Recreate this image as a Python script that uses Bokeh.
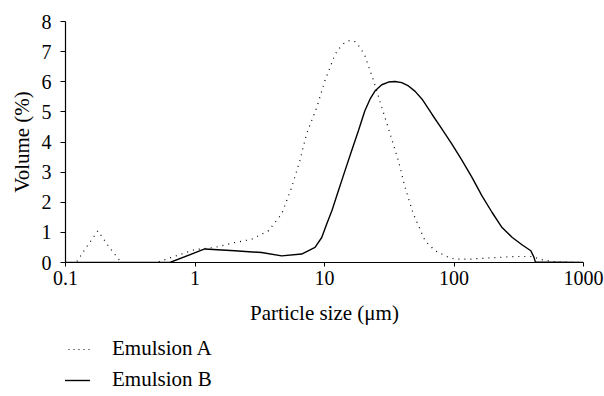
from bokeh.plotting import figure
from bokeh.layouts import column
from bokeh.models import FixedTicker, Legend, LegendItem, Range1d
from bokeh.embed import file_html
from bokeh.resources import INLINE

# Emulsion A (dotted)
a_x = [0.1, 0.121, 0.15, 0.178, 0.22, 0.27, 0.504, 1.0, 1.42, 2.03, 2.73, 3.68, 4.67,
       5.57, 6.45, 7.27, 8.72, 10.08, 12.1, 13.2, 14.4, 15.7, 17.2, 18.8, 20.5, 23.9, 27.7,
       32.1, 37.2, 41.9, 48.6, 59.8, 71.5, 90.8, 102, 130, 185, 297, 401, 480, 610, 1000]
a_y = [0, 0, 0.6, 1.05, 0.48, 0, 0, 0.43, 0.5, 0.66, 0.77, 1.05, 1.61,
       2.49, 3.38, 4.27, 5.15, 6.04, 6.92, 7.14, 7.31, 7.37, 7.33, 7.14, 6.87, 6.04, 5.15,
       4.27, 3.38, 2.49, 1.61, 0.72, 0.39, 0.17, 0.11, 0.11, 0.15, 0.2, 0.2, 0.09, 0.02, 0]

# Emulsion B (solid)
b_x = [0.1, 0.64, 1.19, 2.03, 3.27, 4.67, 6.66, 8.45, 9.52, 10.4, 11.4, 12.8, 14.4, 16.2,
       18.3, 20.5, 22.5, 24.6, 27.7, 31.2, 35.0, 39.5, 44.5, 50.1, 56.5, 67.4, 80.8, 96.4,
       115, 138, 164, 197, 235, 282, 337, 392, 413, 425, 1000]
b_y = [0, 0, 0.45, 0.39, 0.33, 0.22, 0.28, 0.5, 0.83, 1.28, 1.72, 2.38, 3.05, 3.71,
       4.38, 5.04, 5.43, 5.7, 5.9, 5.99, 6.01, 5.97, 5.86, 5.68, 5.43, 4.93, 4.43, 3.93,
       3.4, 2.82, 2.22, 1.66, 1.16, 0.83, 0.58, 0.39, 0.19, 0.02, 0]

x_ticks = [0.1, 1, 10, 100, 1000]
x_labels = ["0.1", "1", "10", "100", "1000"]
y_ticks = [0, 1, 2, 3, 4, 5, 6, 7, 8]
series_names = ["Emulsion A", "Emulsion B"]

FONT = "'Liberation Serif'"

p = figure(width=604, height=330, x_axis_type="log", output_backend="svg",
           toolbar_location=None, x_range=Range1d(0.1, 1000), y_range=Range1d(0, 8),
           min_border_left=65, min_border_right=21, min_border_top=21, min_border_bottom=68)
p.outline_line_color = None
p.grid.grid_line_color = None
p.background_fill_color = "white"
p.border_fill_color = "white"

la = p.line(a_x, a_y, line_color="black", line_width=1.2, line_dash="1 5")
lb = p.line(b_x, b_y, line_color="black", line_width=1.4)

xa = p.xaxis[0]
xa.ticker = FixedTicker(ticks=x_ticks)
xa.major_label_overrides = {t: l for t, l in zip(x_ticks, x_labels)}
xa.minor_tick_line_color = None
xa.major_tick_in = 0
xa.major_tick_out = 4
xa.major_label_standoff = 4
xa.axis_label = "Particle size (\u03bcm)"

ya = p.yaxis[0]
ya.ticker = FixedTicker(ticks=y_ticks)
ya.minor_tick_line_color = None
ya.major_tick_in = 0
ya.major_tick_out = 5
ya.major_label_standoff = 9
ya.axis_label = "Volume (%)"

for ax in (xa, ya):
    ax.axis_line_color = "black"
    ax.axis_line_width = 1.2
    ax.major_tick_line_color = "black"
    ax.major_label_text_font = FONT
    ax.major_label_text_font_size = "20px"
    ax.major_label_text_color = "black"
    ax.axis_label_text_font = FONT
    ax.axis_label_text_font_size = "21px"
    ax.axis_label_text_font_style = "normal"
    ax.axis_label_text_color = "black"
xa.axis_label_standoff = 13
ya.axis_label_standoff = 5

# legend panel below the chart (its lines lie outside its visible range)
q = figure(width=604, height=66, output_backend="svg", toolbar_location=None,
           x_axis_type=None, y_axis_type=None, x_range=Range1d(0, 1), y_range=Range1d(0, 1),
           min_border=0)
q.outline_line_color = None
q.grid.grid_line_color = None
q.background_fill_color = "white"
q.border_fill_color = "white"
qa = q.line([-5, -4], [-5, -4], line_color="black", line_width=1.2, line_dash="1 4")
qb = q.line([-5, -4], [-5, -4], line_color="black", line_width=1.4)

legend = Legend(items=[LegendItem(label=series_names[0], renderers=[qa]),
                       LegendItem(label=series_names[1], renderers=[qb])],
                location=(-2, 4), orientation="vertical",
                glyph_width=27, glyph_height=24, label_height=24, spacing=6,
                label_standoff=22, padding=0, margin=0,
                border_line_color=None, background_fill_alpha=0,
                label_text_font=FONT, label_text_font_size="21px", label_text_color="black")
q.add_layout(legend)

layout = column(p, q, spacing=0)
open("out.html", "w").write(file_html(layout, INLINE))
